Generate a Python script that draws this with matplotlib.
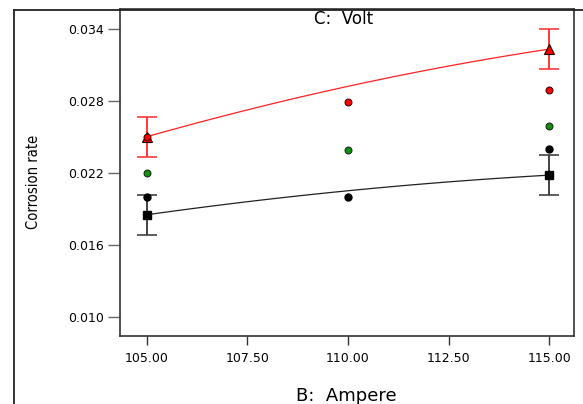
import matplotlib
matplotlib.use("Agg")
import matplotlib.pyplot as plt
import numpy as np
from matplotlib.lines import Line2D

# factor levels (B: Ampere)
amps = [105.0, 110.0, 115.0]

# observed corrosion rates at each ampere level
red_obs = [0.0250, 0.0279, 0.0289]
green_obs = [0.0220, 0.0239, 0.0259]
black_obs = [0.0200, 0.0200, 0.0240]

# model predictions (high / low volt) at each ampere level
pred_hi = [0.0250, 0.0292, 0.0323]
pred_lo = [0.0185, 0.0205, 0.0218]

# half-width of the confidence bars at the ends of the range
ci_amps = [105.0, 115.0]
ci_half = 0.00166

xticks = [105.0, 107.5, 110.0, 112.5, 115.0]
yticks = [0.010, 0.016, 0.022, 0.028, 0.034]

W, H = 583, 404
fig = plt.figure(figsize=(W / 100, H / 100), dpi=100)
ax = fig.add_axes([120.3 / W, 1 - 336 / H, (574 - 120.3) / W, (336 - 9.5) / H])

# smooth prediction curves (quadratic in B)
xs = np.linspace(amps[0], amps[-1], 100)
hi_curve = np.polyval(np.polyfit(amps, pred_hi, 2), xs)
lo_curve = np.polyval(np.polyfit(amps, pred_lo, 2), xs)
ax.plot(xs, hi_curve, color="#ff2020", lw=0.9, zorder=2)
ax.plot(xs, lo_curve, color="#202020", lw=0.9, zorder=2)

# confidence bars and prediction markers at the ends
hi_end = [pred_hi[0], pred_hi[-1]]
lo_end = [pred_lo[0], pred_lo[-1]]
ax.errorbar(ci_amps, hi_end, yerr=ci_half, fmt="none", ecolor="#ff2a2a",
            elinewidth=1.3, capsize=7.2, capthick=1.1, zorder=3)
ax.errorbar(ci_amps, lo_end, yerr=ci_half, fmt="none", ecolor="#333333",
            elinewidth=1.3, capsize=7.2, capthick=1.1, zorder=3)
ax.plot(ci_amps, hi_end, linestyle="none", marker="^", ms=7.5,
        mfc="#ff0000", mec="#200000", mew=0.8, zorder=4)
ax.plot(ci_amps, lo_end, linestyle="none", marker="s", ms=5.5,
        mfc="black", mec="black", zorder=4)

# observed points
ax.plot(amps, red_obs, linestyle="none", marker="o", ms=5,
        mfc="#ff0000", mec="#300000", mew=0.7, zorder=5)
ax.plot(amps, green_obs, linestyle="none", marker="o", ms=5,
        mfc="#109010", mec="#102010", mew=0.7, zorder=5)
ax.plot(amps, black_obs, linestyle="none", marker="o", ms=5,
        mfc="black", mec="black", zorder=5)

ax.set_xlim(104.34, 115.62)
ax.set_ylim(0.0084, 0.0356)
ax.set_xticks(xticks)
ax.set_xticklabels(["%.2f" % v for v in xticks])
ax.set_yticks(yticks)
ax.set_yticklabels(["%.3f" % v for v in yticks])
ax.tick_params(axis="y", direction="out", length=8.5, width=1.0,
               color="#666666", labelsize=9, pad=3)
ax.tick_params(axis="x", direction="out", length=6.5, width=1.0,
               color="#333333", labelsize=9, pad=5)
for s in ax.spines.values():
    s.set_color("#333333")
    s.set_linewidth(1.2)

# outer frame lines (left and top)
fig.add_artist(Line2D([14 / W, 14 / W], [0, 1 - 9.5 / H],
                      transform=fig.transFigure, color="#222222", lw=1.3))
fig.add_artist(Line2D([14 / W, 1], [1 - 9.5 / H, 1 - 9.5 / H],
                      transform=fig.transFigure, color="#222222", lw=1.3))

fig.text(344 / W, 1 - 19 / H, "C:  Volt", ha="center", va="center",
         fontsize=12)
fig.text(346 / W, 1 - 396 / H, "B:  Ampere", ha="center", va="center",
         fontsize=13)
fig.text(33 / W, 1 - 182 / H, "Corrosion rate", rotation=90,
         ha="center", va="center", fontsize=10.5, fontstretch="condensed",
         family=["DejaVu Sans"])

fig.savefig("out.png", dpi=100)
